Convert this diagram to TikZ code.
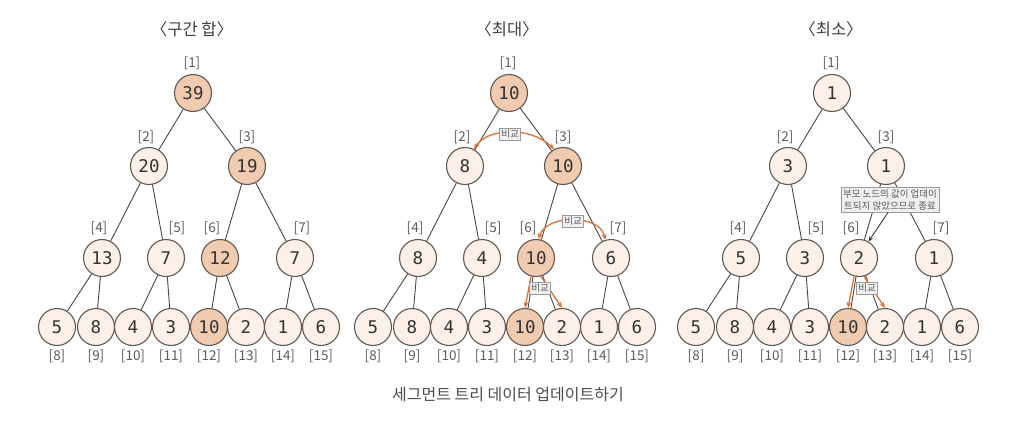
\documentclass[tikz,border=0pt]{standalone}
\usepackage{fontspec}
\setmainfont{Noto Sans CJK KR}
\newfontfamily\numfont{DejaVu Sans Mono}
\usetikzlibrary{arrows.meta}

\definecolor{nodepale}{HTML}{FCF0E8}
\definecolor{nodehot}{HTML}{F0CBB0}
\definecolor{nodeline}{HTML}{625852}
\definecolor{edgegray}{HTML}{4A4644}
\definecolor{idxgray}{HTML}{5C5C5C}
\definecolor{cmporange}{HTML}{D9733A}
\definecolor{boxfill}{HTML}{EFEFEF}
\definecolor{boxline}{HTML}{9A9A9A}

\begin{document}
\begin{tikzpicture}[x=1pt, y=-1pt, >=Stealth,
    tnode/.style={circle, draw=nodeline, line width=1.1pt, fill=nodepale, text=black!80,
        minimum size=37pt, inner sep=0pt, font=\numfont\fontsize{17.5}{17.5}\selectfont},
    hotnode/.style={tnode, fill=nodehot},
    idx/.style={text=idxgray, inner sep=0pt, font=\fontsize{13.5}{13.5}\selectfont},
    edge/.style={draw=edgegray, line width=0.9pt},
    title/.style={text=black!75, font=\fontsize{16.5}{16.5}\selectfont},
    caption/.style={text=black!70, font=\fontsize{16}{16}\selectfont},
    cmpbox/.style={draw=boxline, fill=boxfill, text=black!65, inner sep=1.8pt,
        font=\fontsize{9.5}{9.5}\selectfont},
    cmparrow/.style={draw=cmporange, line width=1.3pt, -{Stealth[length=6pt,width=5pt]}},
    cmparrows/.style={cmparrow, {Stealth[length=6pt,width=5pt]}-{Stealth[length=6pt,width=5pt]}}]

    % 배경과 크기
    \fill[white] (0,0) rectangle (1010,434);
    \useasboundingbox (0,0) rectangle (1010,434);

    % 노드 위치와 인덱스
    \foreach \t/\dx in {s/0, m/316, n/639}{
        \foreach \i/\x/\y in {1/193/93, 2/149/166, 3/247/166, 4/102/258, 5/166/258, 6/220/258,
                7/295/258, 8/57/327, 9/96/327, 10/133/327, 11/171/327, 12/209/327,
                13/246/327, 14/283/327, 15/321/327}
            \coordinate (\t p\i) at (\x+\dx,\y);
        \foreach \i/\x/\y in {1/192/63, 2/146/137, 3/247/137, 4/99/228, 5/177/228, 6/212/228,
                7/302/228, 8/57/356, 9/96/356, 10/133/356, 11/171/356, 12/209/356,
                13/246/356, 14/283/356, 15/321/356}
            \node[idx] (\t l\i) at (\x+\dx,\y) {[\i]};
    }

    % 구간 합
    \node[title] (stitle) at (192,29) {〈구간 합〉};
    \foreach \i/\v/\st in {1/39/hotnode, 2/20/tnode, 3/19/hotnode, 4/13/tnode, 5/7/tnode,
            6/12/hotnode, 7/7/tnode, 8/5/tnode, 9/8/tnode, 10/4/tnode, 11/3/tnode,
            12/10/hotnode, 13/2/tnode, 14/1/tnode, 15/6/tnode}
        \node[\st] (s\i) at (sp\i) {\v};

    % 최대
    \node[title] (mtitle) at (507,29) {〈최대〉};
    \foreach \i/\v/\st in {1/10/hotnode, 2/8/tnode, 3/10/hotnode, 4/8/tnode, 5/4/tnode,
            6/10/hotnode, 7/6/tnode, 8/5/tnode, 9/8/tnode, 10/4/tnode, 11/3/tnode,
            12/10/hotnode, 13/2/tnode, 14/1/tnode, 15/6/tnode}
        \node[\st] (m\i) at (mp\i) {\v};

    % 최소
    \node[title] (ntitle) at (831,29) {〈최소〉};
    \foreach \i/\v/\st in {1/1/tnode, 2/3/tnode, 3/1/tnode, 4/5/tnode, 5/3/tnode,
            6/2/tnode, 7/1/tnode, 8/5/tnode, 9/8/tnode, 10/4/tnode, 11/3/tnode,
            12/10/hotnode, 13/2/tnode, 14/1/tnode, 15/6/tnode}
        \node[\st] (n\i) at (np\i) {\v};

    % 간선
    \foreach \t in {s,m,n}
        \foreach \a/\b in {1/2, 1/3, 2/4, 2/5, 3/6, 3/7, 4/8, 4/9, 5/10, 5/11, 6/12, 6/13, 7/14, 7/15}
            \draw[edge] (\t\a) -- (\t\b);

    % 비교 화살표
    \draw[cmparrows] (m2.62) .. controls (488,127) and (532,127) .. (m3.118);
    \node[cmpbox] (mcmp1) at (510,134) {비교};
    \draw[cmparrows] (m6.82) .. controls (546,214) and (600,214) .. (m7.108);
    \node[cmpbox] (mcmp2) at (573,221) {비교};
    \draw[cmparrow] (m6.255) -- (m12.90);
    \draw[cmparrow] (m6.285) -- (m13.90);
    \node[cmpbox] (mcmp3) at (540,288) {비교};

    \draw[cmparrow] (n6.255) -- (n12.90);
    \draw[cmparrow] (n6.285) -- (n13.90);
    \node[cmpbox] (ncmp1) at (867,288) {비교};

    % 종료 설명
    \node[cmpbox, align=center, inner sep=2pt, font=\fontsize{9.5}{12}\selectfont] (nnote) at (890,200)
        {부모 노드의 값이 업데이\\트되지 않았으므로 종료};
    \draw[black!85, line width=0.8pt, -{Stealth[length=5pt,width=4pt]}] ([xshift=-2pt]nnote.south) -- (n6.60);

    % 아래 설명
    \node[caption] (cap) at (508,395) {세그먼트 트리 데이터 업데이트하기};
\end{tikzpicture}
\end{document}
